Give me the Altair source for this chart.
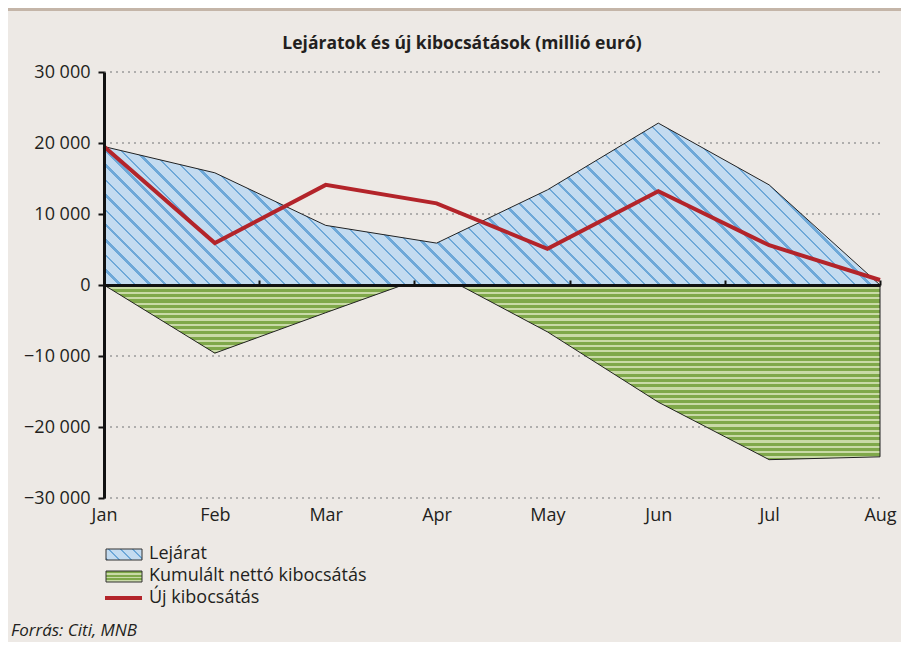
import altair as alt
import pandas as pd

# ---------------- data ----------------
months = ["Jan", "Feb", "Mar", "Apr", "May", "Jun", "Jul", "Aug"]
lejarat = [19500, 15800, 8400, 5900, 13400, 22800, 14100, 0]
uj_kibocsatas = [19500, 5900, 14100, 11500, 5100, 13200, 5600, 700]
kumulalt = [0, -9600, -3900, 1700, -6600, -16500, -24600, -24200]
y_ticks = [-30000, -20000, -10000, 0, 10000, 20000, 30000]
grid_values = [-30000, -20000, -10000, 10000, 20000, 30000]
x_tick_positions = [0, 1.4, 2.8, 4.2, 5.6, 7]
legend_labels = ["Lejárat", "Kumulált nettó kibocsátás", "Új kibocsátás"]
title_text = "Lejáratok és új kibocsátások (millió euró)"
source_text = "Forrás: Citi, MNB"

# ---------------- layout / style ----------------
LEFT, TOP = 96, 64
W, H = 776, 426
RIGHT = 893 - LEFT - W
BOTTOM = 634 - TOP - H
SH = 107 - 8 - LEFT          # shift so decorations keep reference page positions
Y_MIN, Y_MAX = -30000, 30000
PX = H / (Y_MAX - Y_MIN)
FONT = "Open Sans"
TXT = "#231f20"
BG = "#ede9e5"
RED = "#b3242a"
BLUE_BG, BLUE_FG = "#c3dbf0", "#6ea8d8"
GREEN_BG, GREEN_FG = "#c9daa7", "#7fa84a"

df = pd.DataFrame({
    "idx": list(range(len(months))),
    "month": months,
    "lejarat": lejarat,
    "uj": uj_kibocsatas,
    "kum": kumulalt,
})
grid_df = pd.DataFrame({"v": grid_values})
one = pd.DataFrame({"a": [0]})


def stripes(period_t, line_frac, bg, fg):
    stops = []
    t = 0.0
    while t < 1.0:
        b = min(t + period_t * line_frac, 1.0)
        c = min(t + period_t, 1.0)
        stops += [
            {"offset": round(t, 5), "color": fg},
            {"offset": round(b, 5), "color": fg},
            {"offset": round(b, 5), "color": bg},
            {"offset": round(c, 5), "color": bg},
        ]
        t += period_t
    return stops


def diag_gradient(w, h, period, line_px, bg, fg):
    dt = period * w / (w * w + h * h)
    return {"gradient": "linear", "x1": 0, "y1": 1, "x2": 1, "y2": 1 - h / w,
            "stops": stripes(dt, line_px / period, bg, fg)}


def horiz_gradient(h, period, line_px, bg, fg):
    return {"gradient": "linear", "x1": 0, "y1": 0, "x2": 0, "y2": 1,
            "stops": stripes(period / h, line_px / period, bg, fg)}


blue_h = max(lejarat) * PX
green_h = (max(0, max(kumulalt)) - min(kumulalt)) * PX
blue_fill = diag_gradient(W, blue_h, 15, 3, BLUE_BG, BLUE_FG)
green_fill = horiz_gradient(green_h, 5.3, 3.1, GREEN_BG, GREEN_FG)

yscale = alt.Scale(domain=[Y_MIN, Y_MAX], nice=False)
xscale = alt.Scale(domain=[0, len(months) - 1], nice=False, zero=False)

yaxis = alt.Axis(
    values=y_ticks, title=None, grid=False, zindex=1,
    labelExpr="replace(format(datum.value, ',d'), ',', ' ')",
    labelFont=FONT, labelFontSize=18, labelColor=TXT, labelPadding=8,
    labelFlush=False,
    domainColor="#111", domainWidth=3, tickColor="#111", tickWidth=2, tickSize=6,
)
month_expr = "[" + ",".join("'%s'" % m for m in months) + "][datum.value]"
xaxis_labels = alt.Axis(
    values=list(range(len(months))), title=None, grid=False, domain=False, ticks=False,
    labelExpr=month_expr, labelFont=FONT, labelFontSize=18, labelColor=TXT,
    labelPadding=8, labelFlush=False,
)
xaxis_ticks = alt.Axis(
    values=x_tick_positions, title=None, grid=False, labels=False, zindex=1,
    domainColor="#111", domainWidth=3, tickColor="#111", tickWidth=2, tickSize=5,
    offset=-(H / 2),
)

grid = alt.Chart(grid_df).mark_rule(
    color="#9a9a9a", strokeDash=[2, 4], strokeWidth=1.5
).encode(
    y=alt.Y("v:Q", scale=yscale, axis=yaxis),
    x=alt.value(0), x2=alt.value(W),
)

green = alt.Chart(df).mark_area(
    fill=green_fill, stroke="#222", strokeWidth=1
).encode(
    x=alt.X("idx:Q", scale=xscale, axis=xaxis_labels),
    y=alt.Y("kum:Q", scale=yscale, axis=yaxis),
    y2=alt.datum(0),
)

blue = alt.Chart(df).mark_area(
    fill=blue_fill, stroke="#222", strokeWidth=1
).encode(
    x=alt.X("idx:Q", scale=xscale, axis=None),
    y=alt.Y("lejarat:Q", scale=yscale, axis=yaxis),
    y2=alt.datum(0),
)

red = alt.Chart(df).mark_line(color=RED, strokeWidth=4).encode(
    x=alt.X("idx:Q", scale=xscale, axis=None),
    y=alt.Y("uj:Q", scale=yscale, axis=yaxis),
)

tick_layer = alt.Chart(df).mark_point(opacity=0).encode(
    x=alt.X("idx:Q", scale=xscale, axis=xaxis_ticks),
    y=alt.Y("uj:Q", scale=yscale, axis=yaxis),
)

# ---------------- decorations: title, legend, source, top strip ----------------
strip = alt.Chart(one).mark_rect(fill="#c4b5a8").encode(
    x=alt.value(-LEFT), x2=alt.value(W + RIGHT), y=alt.value(-TOP), y2=alt.value(-TOP + 3)
)
title = alt.Chart(one).mark_text(
    text=title_text, font=FONT, fontSize=17.5, fontWeight="bold", color=TXT,
    align="center", baseline="middle"
).encode(x=alt.value(355 + SH), y=alt.value(-28))

sw_blue = alt.Chart(one).mark_rect(
    fill=diag_gradient(36, 11, 12, 2.5, BLUE_BG, BLUE_FG), stroke="#333", strokeWidth=1
).encode(x=alt.value(-1 + SH), x2=alt.value(35 + SH), y=alt.value(477), y2=alt.value(488))
sw_green = alt.Chart(one).mark_rect(
    fill=horiz_gradient(11, 3.7, 2, GREEN_BG, GREEN_FG), stroke="#333", strokeWidth=1
).encode(x=alt.value(-1 + SH), x2=alt.value(35 + SH), y=alt.value(499), y2=alt.value(510))
sw_red = alt.Chart(one).mark_rule(color=RED, strokeWidth=4).encode(
    x=alt.value(-2 + SH), x2=alt.value(35 + SH), y=alt.value(526)
)


def legend_text(label, yv):
    return alt.Chart(one).mark_text(
        text=label, font=FONT, fontSize=18, color=TXT, align="left", baseline="middle"
    ).encode(x=alt.value(42 + SH), y=alt.value(yv))


lt1 = legend_text(legend_labels[0], 482)
lt2 = legend_text(legend_labels[1], 504)
lt3 = legend_text(legend_labels[2], 526)

source = alt.Chart(one).mark_text(
    text=source_text, font=FONT, fontSize=17, fontStyle="italic", color=TXT,
    align="left", baseline="alphabetic"
).encode(x=alt.value(-LEFT + 3), y=alt.value(564))

chart = alt.layer(
    grid, green, blue, red, tick_layer,
    strip, title, sw_blue, sw_green, sw_red, lt1, lt2, lt3, source,
).resolve_axis(x="independent").properties(
    width=W, height=H,
    autosize=alt.AutoSizeParams(type="none"),
    padding={"left": LEFT, "top": TOP, "right": RIGHT, "bottom": BOTTOM},
    background=BG,
).configure_view(stroke=None)

chart.save("out.html", embed_options={"renderer": "svg", "actions": False})
